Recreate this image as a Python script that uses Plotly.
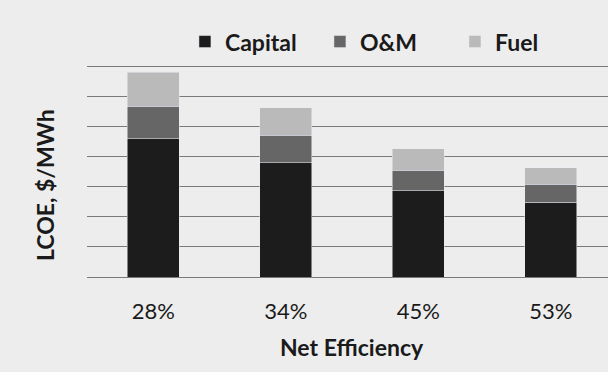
import plotly.graph_objects as go

# Levelized cost of electricity split by cost component, per net efficiency
efficiency = ["28%", "34%", "45%", "53%"]
capital = [45.9, 37.9, 28.6, 24.8]
om = [10.7, 9.1, 6.8, 6.0]
fuel = [11.4, 9.1, 7.2, 5.5]

FONT = "Lato"
TEXT = "#1a1a1a"

fig = go.Figure()
fig.add_trace(go.Bar(name="Capital", x=efficiency, y=capital, marker_color="#1c1c1c"))
fig.add_trace(go.Bar(name="O&M", x=efficiency, y=om, marker_color="#666666"))
fig.add_trace(go.Bar(name="Fuel", x=efficiency, y=fuel, marker_color="#bababa"))

fig.update_layout(
    width=608,
    height=372,
    barmode="stack",
    bargap=0.608,
    paper_bgcolor="#ededed",
    plot_bgcolor="#ededed",
    margin=dict(l=87, r=0, t=63, b=95),
    font=dict(family=FONT, color=TEXT, size=22),
    showlegend=True,
    legend=dict(
        orientation="h",
        x=0.188,
        xanchor="left",
        y=1.1,
        yanchor="middle",
        entrywidth=90,
        font=dict(family=FONT, size=23, weight="bold", color=TEXT),
        bgcolor="rgba(0,0,0,0)",
        traceorder="normal",
    ),
    xaxis=dict(
        type="category",
        range=[-0.5, 3.432],
        showgrid=False,
        showline=False,
        ticks="",
        ticklabelstandoff=19,
        tickfont=dict(family=FONT, size=22, color=TEXT),
    ),
    yaxis=dict(
        range=[0, 71],
        tickvals=[0, 10, 20, 30, 40, 50, 60, 70],
        showgrid=True,
        gridcolor="#7a7a7a",
        gridwidth=1.4,
        zeroline=True,
        zerolinecolor="#7a7a7a",
        zerolinewidth=1.4,
        showticklabels=False,
        ticks="",
    ),
    annotations=[
        dict(
            text="<b>Net Efficiency</b>",
            x=1.5, xref="x",
            y=-0.325, yref="paper",
            xanchor="center", yanchor="middle",
            showarrow=False,
            font=dict(family=FONT, size=23, color=TEXT),
        ),
        dict(
            text="<b>LCOE, $/MWh</b>",
            x=-0.0806, xref="paper",
            y=0.43, yref="paper",
            xanchor="center", yanchor="middle",
            textangle=-90,
            showarrow=False,
            font=dict(family=FONT, size=23, color=TEXT),
        ),
    ],
)

fig.write_html("out.html")
